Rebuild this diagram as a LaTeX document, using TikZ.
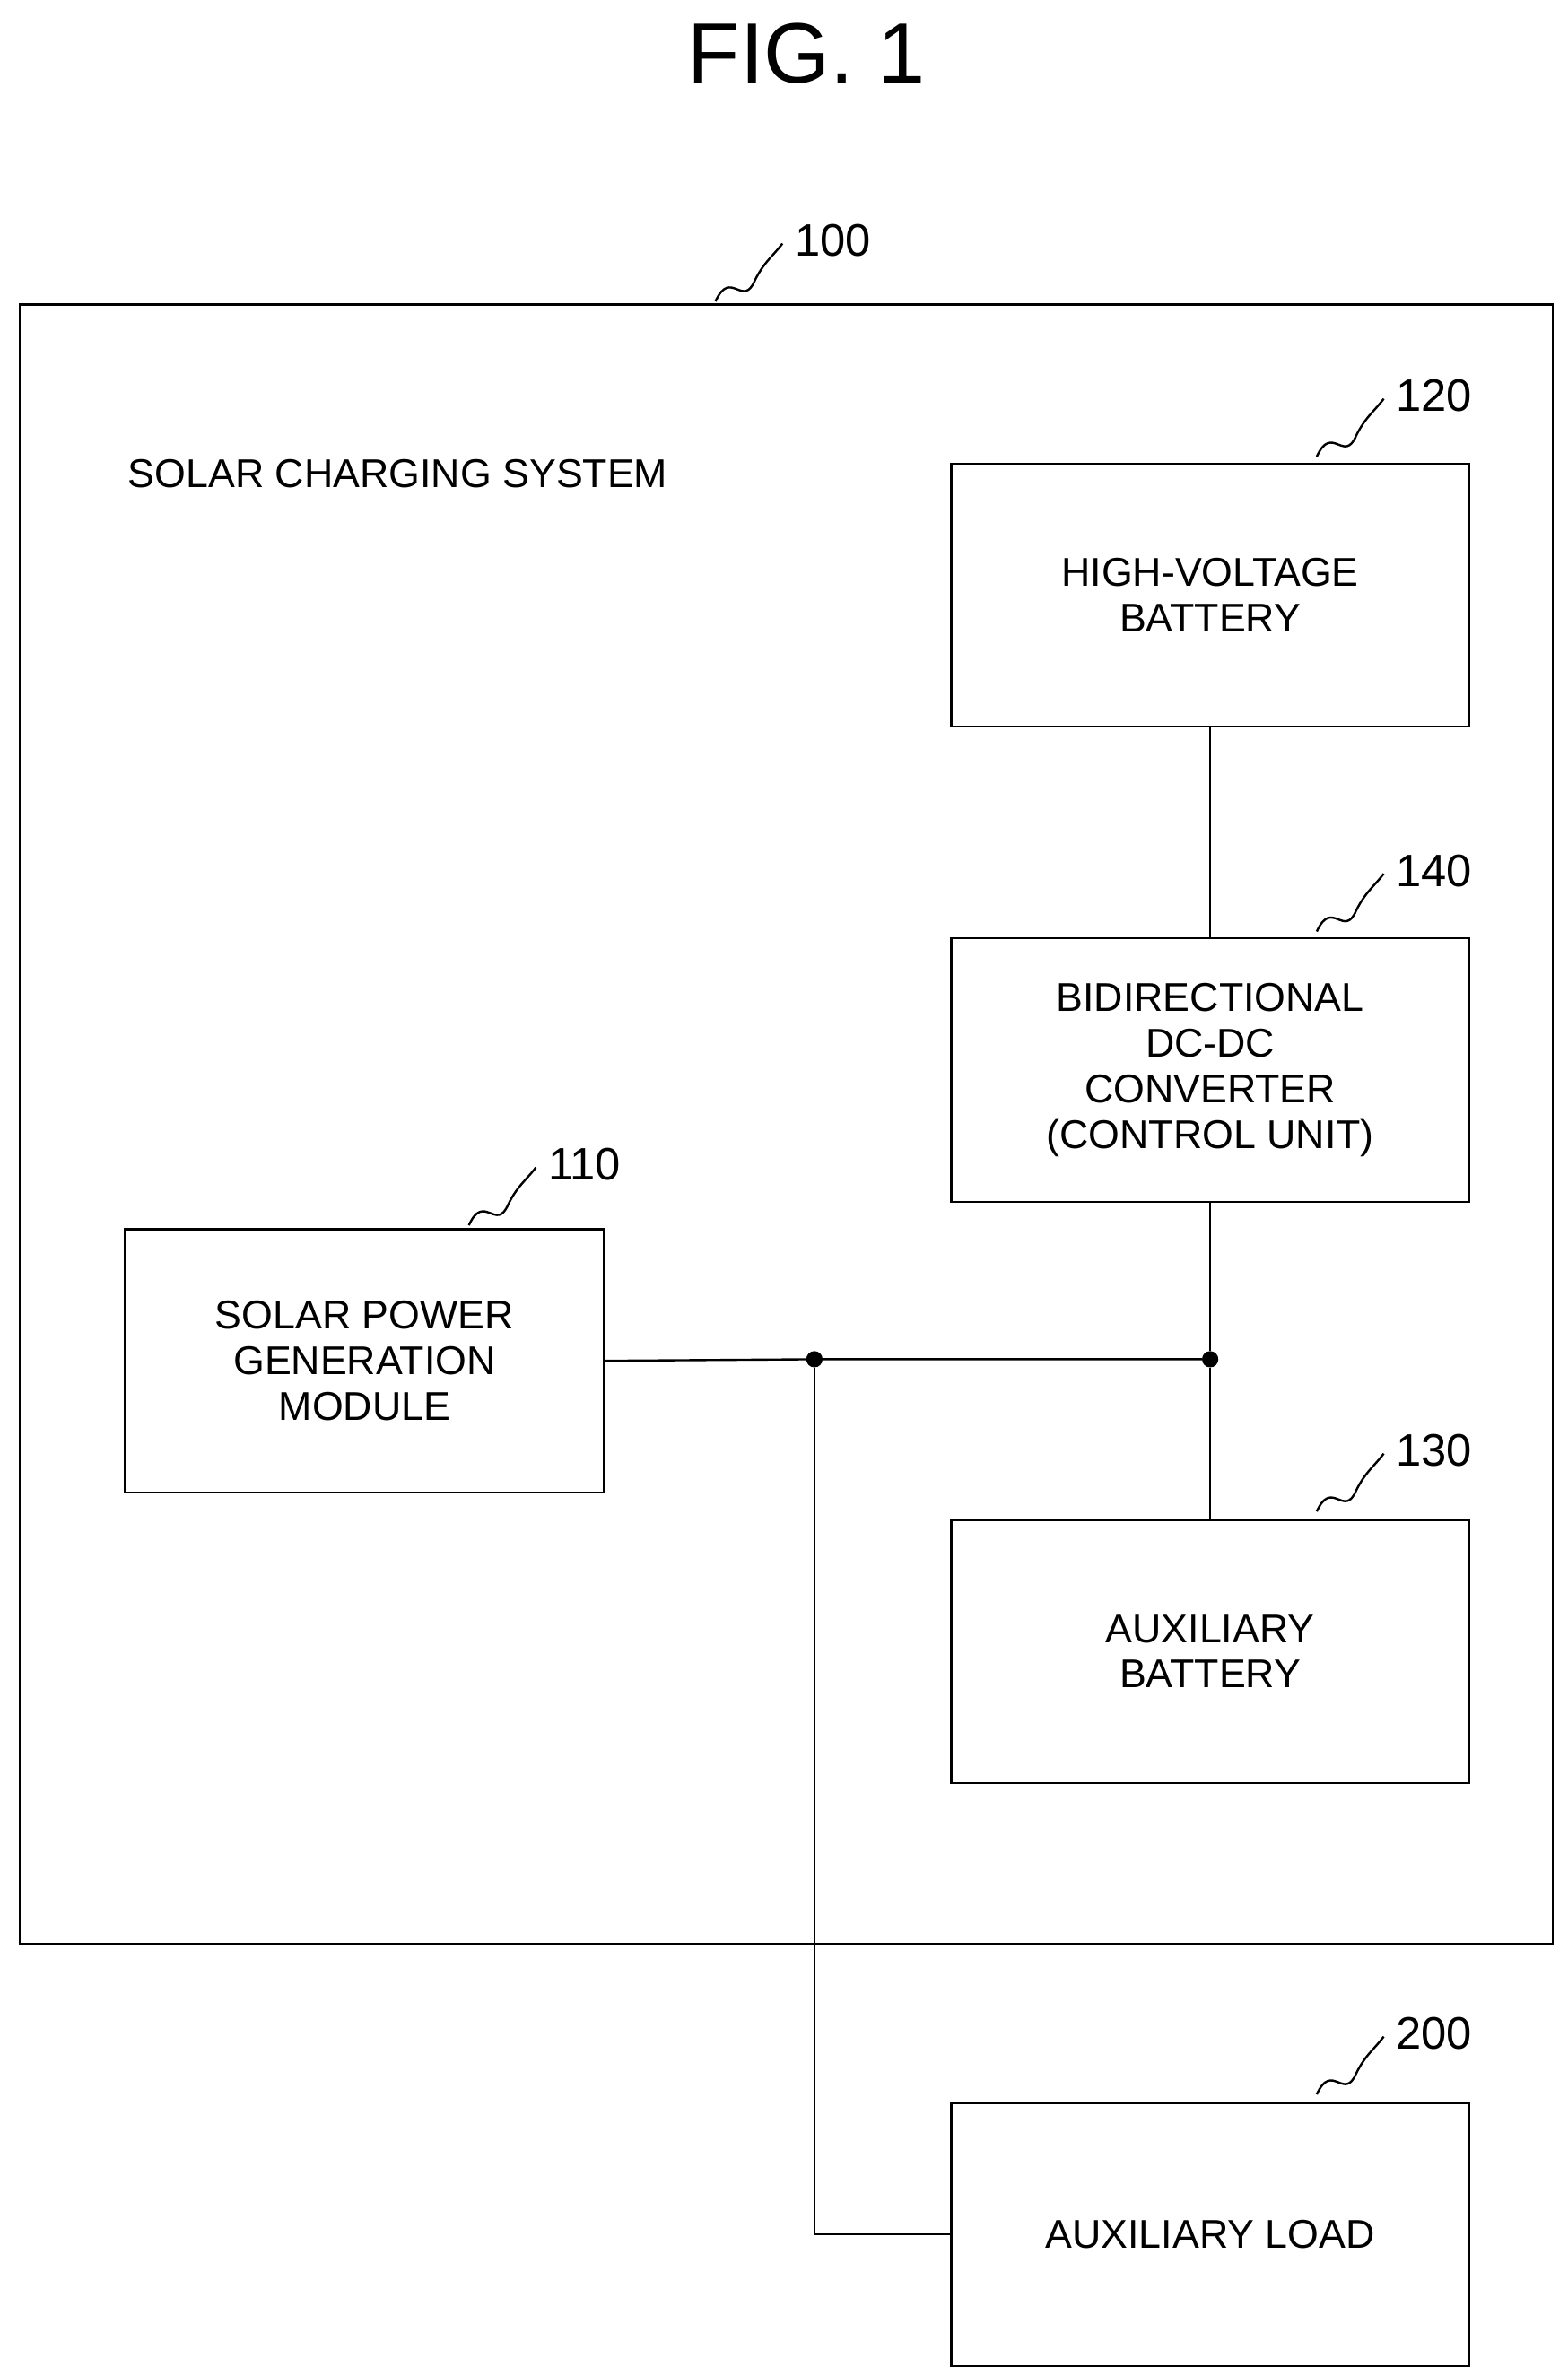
\documentclass[tikz,border=0pt]{standalone}
\usepackage{fontspec}
\setmainfont{Liberation Sans}
\begin{document}
\begin{tikzpicture}[x=0.02cm,y=-0.02cm,
  blk/.style={draw,thick,minimum width=6.8cm,minimum height=3.46cm,align=center,font=\fontsize{15}{17}\selectfont,inner sep=0pt},
  num/.style={font=\fontsize{17}{19}\selectfont,anchor=west},
  dot/.style={circle,fill,draw,inner sep=0pt,minimum size=0.2cm}]
% Bounding area
\useasboundingbox (0,0) rectangle (1030,1561);
\node[font=\fontsize{32}{36}\selectfont] (fig) at (530,35) {FIG. 1};

% Outer system
\draw[thick] (13,200) rectangle (1020,1277);
\node[font=\fontsize{15}{17}\selectfont,anchor=west] (sys) at (78,311) {SOLAR CHARGING SYSTEM};

% Blocks
\node[blk] (hv) at (795,391) {HIGH-VOLTAGE\\BATTERY};
\node[blk] (conv) at (795,703) {BIDIRECTIONAL\\DC-DC\\CONVERTER\\(CONTROL UNIT)};
\node[blk,minimum width=6.3cm] (solar) at (239.5,894) {SOLAR POWER\\GENERATION\\MODULE};
\node[blk] (aux) at (795,1085) {AUXILIARY\\BATTERY};
\node[blk] (load) at (795,1468) {AUXILIARY LOAD};

% Reference numbers
\foreach \n/\x/\y in {100/470/198, 120/865/300, 140/865/612, 110/308/805, 130/865/993, 200/865/1376} {
  \draw[thick] (\x,\y) .. controls (\x+10,\y-22) and (\x+18,\y+5) .. (\x+26,\y-14)
    .. controls (\x+32,\y-26) and (\x+38,\y-30) .. (\x+44,\y-38);
  \node[num] (n\n) at (\x+46,\y-40) {\n};
}

% Wiring
\node[dot] (j1) at (535,893) {};
\node[dot] (j2) at (795,893) {};
\coordinate (bend) at (535,1468);
\draw[thick] (hv) -- (conv);
\draw[thick] (conv) -- (j2) -- (aux);
\draw[thick] (solar.east) -- (j1) -- (j2);
\draw[thick] (j1) -- (bend) -- (load.west);
\end{tikzpicture}
\end{document}
